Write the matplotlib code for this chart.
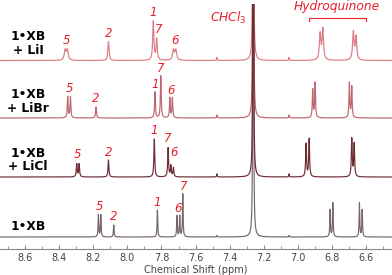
import numpy as np
import matplotlib.pyplot as plt
from matplotlib.ticker import MultipleLocator

plt.rcParams['mathtext.fontset'] = 'dejavusans'

# peak positions (ppm), heights and half widths for each spectrum
names = ['1•XB', '1•XB\n+ LiCl', '1•XB\n+ LiBr', '1•XB\n+ LiI']
ppm = [
    [8.170, 8.156, 8.080, 7.824, 7.709, 7.693, 7.675, 6.811, 6.795, 6.639, 6.623],
    [8.297, 8.283, 8.111, 7.842, 7.761, 7.745, 7.730, 6.952, 6.934, 6.684, 6.670],
    [8.350, 8.334, 8.184, 7.838, 7.804, 7.751, 7.736, 6.913, 6.899, 6.698, 6.684],
    [8.365, 8.352, 8.111, 7.848, 7.828, 7.730, 7.716, 6.870, 6.854, 6.675, 6.659],
]
heights = [
    [22, 22, 12, 27, 21, 21, 43, 27, 34, 34, 27],
    [13, 13, 17, 38, 29, 11, 9, 33, 38, 38, 33],
    [21, 21, 11, 26, 42, 20, 20, 28, 35, 35, 31],
    [10, 10, 19, 39, 21, 10, 10, 26, 31, 28, 23],
]
widths = [
    [0.0022] * 11,
    [0.003] * 11,
    [0.0028] * 11,
    [0.006, 0.006, 0.004, 0.004, 0.004, 0.006, 0.006, 0.005, 0.005, 0.005, 0.005],
]
chcl3_ppm = 7.262
satellites = [7.475, 7.052]
sat_height = [1.5, 3, 3, 3]
offsets = [12, 72, 131, 188.5]
colors = ['#75666a', '#6e2c33', '#bd6670', '#dc7a83']

# peak number labels: (label, ppm, height above baseline)
peak_labels = [
    [('5', 8.163, 22), ('2', 8.080, 12), ('1', 7.824, 27), ('6', 7.701, 21), ('7', 7.668, 43)],
    [('5', 8.290, 14), ('2', 8.111, 17), ('1', 7.842, 38), ('7', 7.761, 30), ('6', 7.728, 16)],
    [('5', 8.342, 21), ('2', 8.184, 11), ('1', 7.838, 26), ('7', 7.804, 42), ('6', 7.743, 20)],
    [('5', 8.358, 12), ('2', 8.111, 19), ('1', 7.848, 40), ('7', 7.815, 23), ('6', 7.723, 12)],
]

x = np.linspace(8.75, 6.44, 30000)


def lorentz(x, x0, h, w):
    return h * w ** 2 / ((x - x0) ** 2 + w ** 2)


fig = plt.figure(figsize=(3.92, 2.75), dpi=100)
ax = fig.add_axes([0, 26 / 275, 1, 245 / 275])
red = '#e8202a'

for i in [3, 2, 0, 1]:
    y = np.zeros_like(x)
    for p, h, w in zip(ppm[i], heights[i], widths[i]):
        y += lorentz(x, p, h, w)
    y += lorentz(x, chcl3_ppm, 3000, 0.0008)
    for s in satellites:
        y += lorentz(x, s, sat_height[i], 0.002)
    ax.plot(x, y + offsets[i], color=colors[i], lw=0.85)
    ax.text(8.582, offsets[i] + 3.5, names[i], ha='center', va='bottom',
            fontsize=8.8, fontweight='bold', linespacing=1.05)
    for lab, p, h in peak_labels[i]:
        ax.text(p, offsets[i] + h + 1.5, lab, color=red, fontsize=8.5,
                style='italic', ha='center', va='bottom')

ax.text(7.41, 231, r'$\mathit{CHCl}_\mathit{3}$', color=red, fontsize=8.8,
        ha='center', va='center')
ax.text(6.77, 242.5, 'Hydroquinone', color=red, fontsize=8.8, style='italic',
        ha='center', va='center')
ax.plot([6.935, 6.935, 6.60, 6.60], [228, 231.5, 231.5, 228], color=red, lw=0.8)

ax.set_xlim(8.747, 6.448)
ax.set_ylim(0, 245)
for s in ['left', 'right', 'top']:
    ax.spines[s].set_visible(False)
ax.spines['bottom'].set_color('#888888')
ax.set_yticks([])
ax.xaxis.set_major_locator(MultipleLocator(0.2))
ax.xaxis.set_minor_locator(MultipleLocator(0.1))
ax.tick_params(axis='x', which='both', direction='in', colors='#888888',
               labelcolor='#444444', labelsize=7, pad=3)
ax.tick_params(axis='x', which='major', length=3)
ax.tick_params(axis='x', which='minor', length=2)
ax.set_xlabel('Chemical Shift (ppm)', fontsize=7, color='#444444', labelpad=1)

fig.savefig('out.png', dpi=100)
